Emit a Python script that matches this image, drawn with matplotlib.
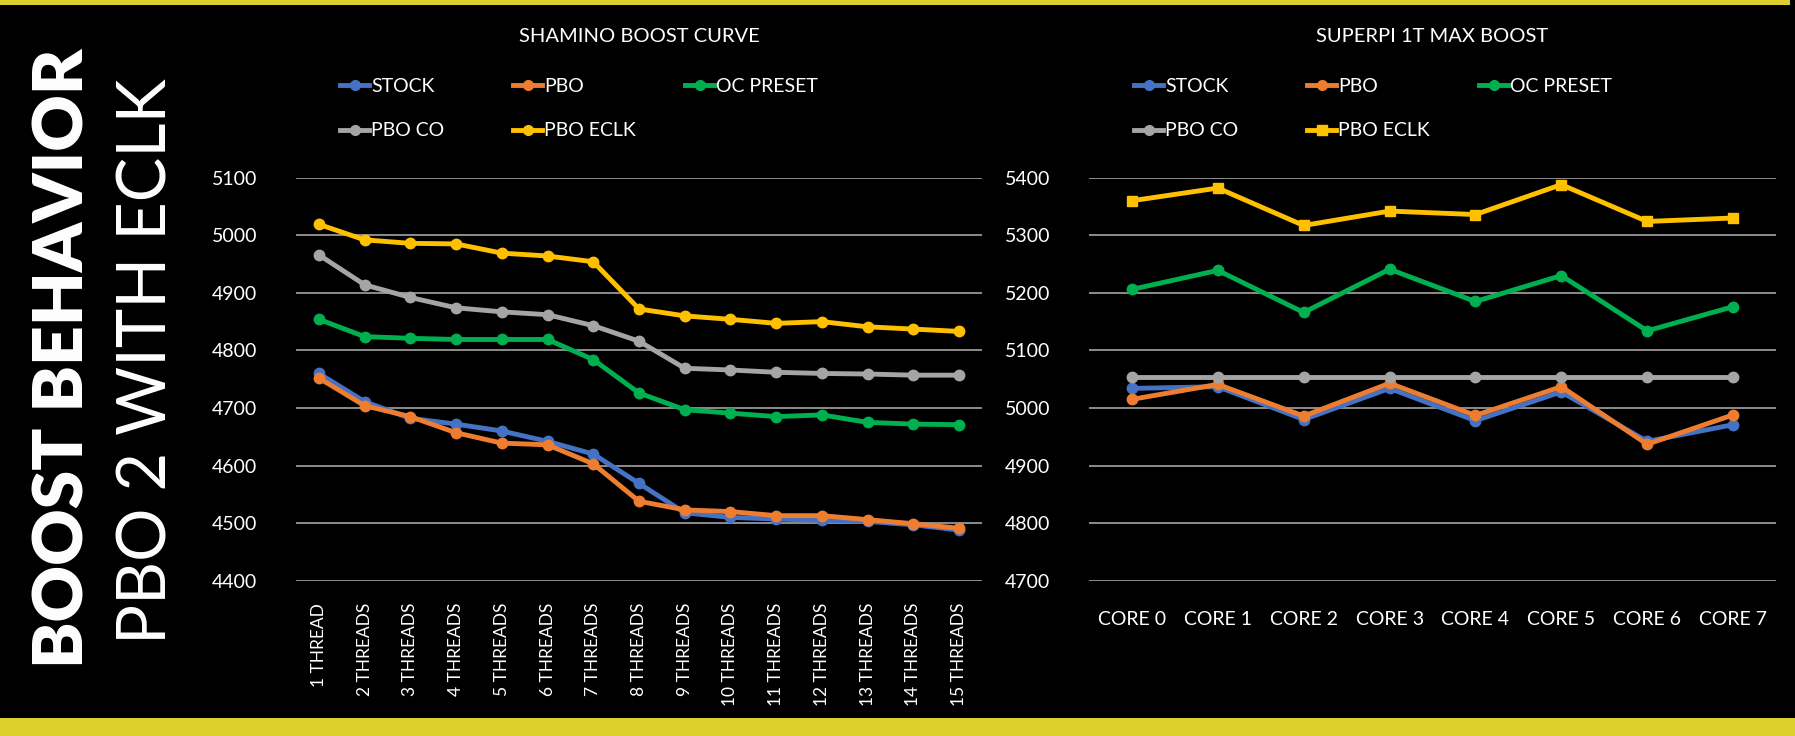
import matplotlib.pyplot as plt
from matplotlib.lines import Line2D
from matplotlib.legend import Legend
from matplotlib.patches import Rectangle

plt.rcParams['font.family'] = ['Lato', 'DejaVu Sans']

threads = ["1 THREAD"] + [f"{i} THREADS" for i in range(2, 16)]
cores = [f"CORE {i}" for i in range(8)]

series_names = ["STOCK", "PBO", "OC PRESET", "PBO CO", "PBO ECLK"]
colors = ["#4472C4", "#ED7D31", "#00B050", "#A5A5A5", "#FFC000"]

# shamino boost curve (MHz)
curve_stock = [4760, 4711, 4682, 4672, 4660, 4642, 4620, 4569, 4518, 4510, 4507, 4505, 4503, 4497, 4488]
curve_pbo = [4752, 4704, 4685, 4657, 4639, 4636, 4603, 4538, 4523, 4520, 4513, 4513, 4506, 4499, 4491]
curve_oc = [4854, 4824, 4821, 4819, 4819, 4819, 4784, 4726, 4697, 4691, 4685, 4688, 4675, 4672, 4671]
curve_pbo_co = [4966, 4914, 4892, 4874, 4867, 4862, 4843, 4816, 4769, 4766, 4762, 4760, 4759, 4757, 4757]
curve_eclk = [5019, 4992, 4986, 4985, 4969, 4964, 4954, 4872, 4860, 4854, 4847, 4850, 4841, 4837, 4833]

# superpi 1t max boost per core (MHz)
core_stock = [5034, 5037, 4980, 5034, 4978, 5028, 4942, 4971]
core_pbo = [5015, 5041, 4986, 5043, 4987, 5037, 4937, 4988]
core_oc = [5206, 5239, 5166, 5241, 5185, 5230, 5134, 5176]
core_pbo_co = [5053, 5053, 5053, 5053, 5053, 5053, 5053, 5053]
core_eclk = [5360, 5382, 5317, 5342, 5336, 5388, 5324, 5330]

left_ticks = [4400, 4500, 4600, 4700, 4800, 4900, 5000, 5100]
right_ticks = [4700, 4800, 4900, 5000, 5100, 5200, 5300, 5400]

W, H = 1795, 736
fig = plt.figure(figsize=(W / 100, H / 100), dpi=100, facecolor="black")

# yellow frame bars
fig.add_artist(Rectangle((0, 1 - 5 / H), 1790 / W, 5 / H, transform=fig.transFigure,
                         color="#DDD02C", lw=0))
fig.add_artist(Rectangle((0, 0), 1, 18 / H, transform=fig.transFigure,
                         color="#DDD02C", lw=0))

# side titles
fig.text(64 / W, 1 - 358 / H, "BOOST BEHAVIOR", rotation=90, color="white",
         fontsize=50, fontweight="heavy", ha="center", va="center")
fig.text(148 / W, 1 - 361 / H, "PBO 2 WITH ECLK", rotation=90, color="white",
         fontsize=48, fontweight="normal", ha="center", va="center")


def style_axes(ax, ticks, labels, rot, pad_x, xsize):
    ax.set_facecolor("black")
    for s in ax.spines.values():
        s.set_visible(False)
    ax.set_yticks(ticks)
    ax.set_ylim(ticks[0], ticks[-1])
    ax.set_xlim(-0.5, len(labels) - 0.5)
    ax.set_xticks(range(len(labels)))
    ax.set_xticklabels(labels, rotation=rot, va="top", ha="center")
    ax.tick_params(axis="both", length=0, colors="white", labelsize=14)
    ax.tick_params(axis="y", pad=28)
    ax.tick_params(axis="x", pad=pad_x, labelsize=xsize)
    ax.grid(axis="y", color="#8C8C8C", lw=1.4)
    ax.set_axisbelow(True)


def add_legend(ax, markers, x0):
    # one legend box per entry so the columns line up like the original
    xs = [x0, x0 + 173, x0 + 345, x0, x0 + 173]
    ys = [86, 86, 86, 131, 131]
    for name, c, m, x, y in zip(series_names, colors, markers, xs, ys):
        h = Line2D([], [], color=c, lw=3.5, marker=m, markersize=7)
        leg = Legend(ax, [h], [name], loc="center left",
                     bbox_to_anchor=((x - 20) / W, 1 - y / H),
                     bbox_transform=fig.transFigure, frameon=False,
                     handlelength=1.5, handletextpad=0.1, borderpad=0,
                     borderaxespad=0, labelcolor="white", fontsize=14)
        ax.add_artist(leg)


# left chart
ax1 = fig.add_axes([296 / W, 1 - 580.7 / H, 686 / W, 403 / H])
style_axes(ax1, left_ticks, threads, 90, 16, 12.5)
x1 = list(range(len(threads)))
left_data = [curve_stock, curve_pbo, curve_oc, curve_pbo_co, curve_eclk]
for vals, c in zip(left_data, colors):
    ax1.plot(x1, vals, color=c, lw=3.5, marker="o", markersize=7.5,
             solid_capstyle="round")
ax1.set_title("SHAMINO BOOST CURVE", color="white", fontsize=14.5, pad=0,
              y=1 + (177.7 - 36) / 403, va="center")
add_legend(ax1, ["o"] * 5, 360)

# right chart
ax2 = fig.add_axes([1089 / W, 1 - 580.7 / H, 687 / W, 403 / H])
style_axes(ax2, right_ticks, cores, 0, 22, 14)
x2 = list(range(len(cores)))
right_data = [core_stock, core_pbo, core_oc, core_pbo_co, core_eclk]
right_markers = ["o", "o", "o", "o", "s"]
for vals, c, m in zip(right_data, colors, right_markers):
    ax2.plot(x2, vals, color=c, lw=3.5, marker=m, markersize=7.5,
             solid_capstyle="round")
ax2.set_title("SUPERPI 1T MAX BOOST", color="white", fontsize=14.5, pad=0,
              y=1 + (177.7 - 36) / 403, va="center")
add_legend(ax2, right_markers, 1154)

fig.savefig("out.png", dpi=100, facecolor="black")
